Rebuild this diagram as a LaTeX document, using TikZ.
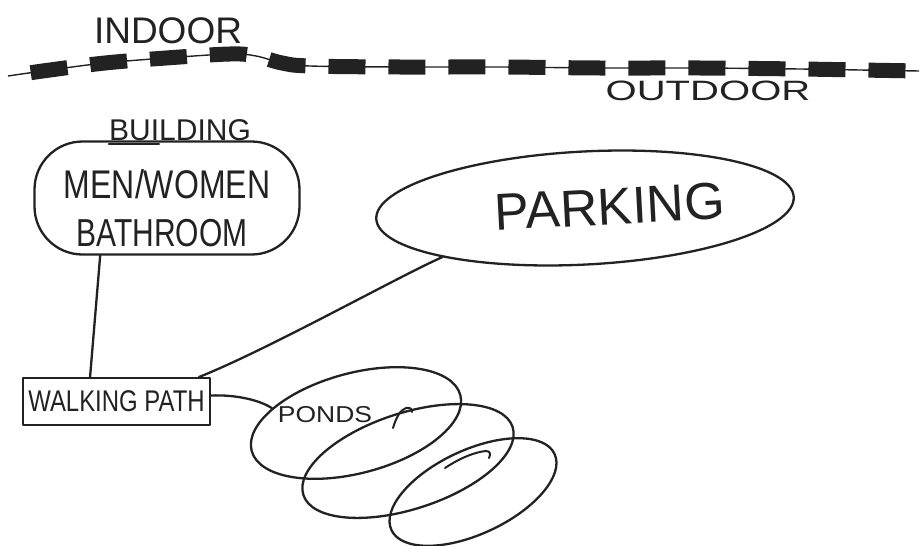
\documentclass[tikz,border=0pt]{standalone}
\usepackage{fontspec}
\setmainfont{Liberation Sans}
\usetikzlibrary{shapes.geometric,calc}
\definecolor{inkc}{HTML}{222222}
\begin{document}
\begin{tikzpicture}[x=1pt,y=-1pt,
  ink/.style={draw=inkc, line width=2.3pt, line cap=round, line join=round},
  lbl/.style={inner sep=0pt, text=inkc},
  pondshape/.style={ink, ellipse, inner sep=0pt},
]
\useasboundingbox (0,0) rectangle (924,546);
\fill[white] (0,0) rectangle (924,546);

% boundary line
\draw[inkc, line width=1.4pt] plot[smooth, tension=0.6] coordinates {(8,76) (50,70) (105,63) (166,58) (230,54) (256,56) (282,63) (310,66) (400,67) (500,67) (600,68) (700,68) (800,69) (860,70) (919,71)};
\draw[inkc, line width=15pt, dash pattern=on 37pt off 23pt, dash phase=37pt] plot[smooth, tension=0.6] coordinates {(8,76) (50,70) (105,63) (166,58) (230,54) (256,56) (282,63) (310,66) (400,67) (500,67) (600,68) (700,68) (800,69) (860,70) (919,71)};

% labels
\node[lbl, font=\fontsize{37}{37}\selectfont] (indoor) at (168,31) {INDOOR};
\node[lbl] (outdoor) at (708,91) {\scalebox{1.43}[1]{\fontsize{28}{28}\selectfont OUTDOOR}};
\node[lbl, font=\fontsize{30}{30}\selectfont] (bldg) at (180,130) {BUILDING};
\draw[ink] ($(bldg.south west)+(0,3)$) -- ++(50,0);

% building
\node[ink, rounded corners=48pt, minimum width=265pt, minimum height=113pt] (bath) at (167,198) {};
\node[lbl] (mw) at (167,184) {\scalebox{1}[1.25]{\fontsize{32}{32}\selectfont MEN/WOMEN}};
\node[lbl] (bt) at (162,233) {\scalebox{1}[1.3]{\fontsize{30}{30}\selectfont BATHROOM}};

% parking
\node[ink, ellipse, inner sep=0pt, minimum width=418pt, minimum height=113pt, rotate=3, text=inkc, font=\fontsize{52}{52}\selectfont] (park) at (585,208) {\hspace*{50pt}PARKING};

% walking path
\node[ink, line width=1.9pt, minimum width=187pt, minimum height=47pt, text=inkc] (walk) at (116.5,401.5) {\scalebox{1.04}[1.3]{\fontsize{23}{23}\selectfont WALKING PATH}};

% ponds
\node[pondshape, minimum width=216pt, minimum height=100pt, rotate=15] (pond1) at (356,423) {};
\node[pondshape, minimum width=220pt, minimum height=96pt, rotate=18] (pond2) at (408,461) {};
\node[pondshape, minimum width=180pt, minimum height=84pt, rotate=25] (pond3) at (473,492) {};
\node[lbl] (pondtxt) at (325,415) {\scalebox{1.15}[1]{\fontsize{23}{23}\selectfont PONDS}};
\draw[ink, line width=2pt] (393,428) .. controls (396,418) and (400,410) .. (406,408) .. controls (410,407) and (412,409) .. (412,412);
\draw[ink, line width=2pt] (445,468) .. controls (460,458) and (475,452) .. (486,451) .. controls (490,451) and (491,454) .. (489,458);

% connectors
\draw[ink] ($(bath.south west)!0.25!(bath.south east)$) -- ($(walk.north west)!0.36!(walk.north east)$);
\draw[ink] ([xshift=-12pt]walk.north east) .. controls +(70,-28) and +(-45,20) .. (park.196);
\draw[ink] ([yshift=6pt]walk.east) .. controls +(25,-1) and +(-12,-8) .. (pond1.155);
\end{tikzpicture}
\end{document}
